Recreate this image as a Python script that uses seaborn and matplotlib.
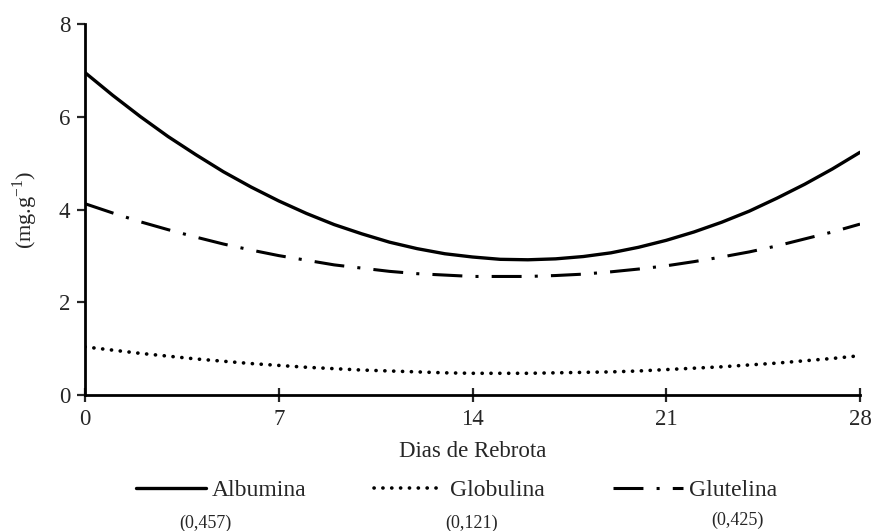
import pandas as pd
import numpy as np
import matplotlib.pyplot as plt
import seaborn as sns

# dias de rebrota e teores (mg.g-1)
dias = list(range(0, 29))
albumina = [6.96, 6.47, 6.01, 5.58, 5.19, 4.82, 4.49, 4.19, 3.92, 3.68,
            3.48, 3.30, 3.16, 3.05, 2.98, 2.93, 2.92, 2.94, 2.99, 3.07,
            3.19, 3.34, 3.52, 3.73, 3.97, 4.25, 4.55, 4.88, 5.24]
globulina = [1.04, 0.97, 0.90, 0.84, 0.78, 0.73, 0.68, 0.64, 0.60, 0.57,
             0.54, 0.52, 0.50, 0.48, 0.47, 0.47, 0.47, 0.48, 0.49, 0.50,
             0.52, 0.55, 0.58, 0.61, 0.65, 0.69, 0.74, 0.79, 0.85]
glutelina = [4.13, 3.93, 3.74, 3.57, 3.41, 3.26, 3.13, 3.01, 2.91, 2.81,
             2.74, 2.67, 2.62, 2.59, 2.56, 2.56, 2.56, 2.58, 2.61, 2.66,
             2.72, 2.79, 2.88, 2.98, 3.09, 3.22, 3.37, 3.52, 3.69]
fracoes = ['Albumina', 'Globulina', 'Glutelina']
r2 = ['(0,457)', '(0,121)', '(0,425)']
xticks = [0, 7, 14, 21, 28]
yticks = [0, 2, 4, 6, 8]

df = pd.DataFrame({'dia': dias * 3,
                   'teor': albumina + globulina + glutelina,
                   'fracao': np.repeat(fracoes, len(dias))})

sns.set_style('white')
plt.rcParams['font.family'] = ['Liberation Serif', 'DejaVu Serif']
plt.rcParams['mathtext.fontset'] = 'custom'
plt.rcParams['mathtext.rm'] = 'Liberation Serif'

fig = plt.figure(figsize=(8.74, 5.31), dpi=100)
ax = fig.add_axes([0.0973, 0.256, 0.8867, 0.698])

sns.lineplot(data=df, x='dia', y='teor', hue='fracao', style='fracao',
             hue_order=fracoes, style_order=fracoes,
             palette=['black'] * 3,
             dashes={'Albumina': '', 'Globulina': (0.05, 2.4), 'Glutelina': (9.8, 4.3, 1.0, 4.3)},
             legend=False, ax=ax)

lws = [2.4, 2.6, 2.2]
for line, lw in zip(ax.get_lines(), lws):
    line.set_linewidth(lw)
ax.get_lines()[1].set_dash_capstyle('round')

ax.set_xlim(0, 28)
ax.set_ylim(0, 8)
ax.set_xticks(xticks)
ax.set_yticks(yticks)
sns.despine(ax=ax)
for s in ['left', 'bottom']:
    ax.spines[s].set_linewidth(2.0)
    ax.spines[s].set_color('black')
ax.tick_params(axis='y', direction='out', length=6, width=1.6, pad=4.5, labelsize=16.5, left=True)
ax.tick_params(axis='x', direction='inout', length=10, width=1.6, pad=5, labelsize=16.5, bottom=True)

ax.set_xlabel('Dias de Rebrota', fontsize=16.5, labelpad=8)
ax.set_ylabel(r'(mg.g$^{-1}$)', fontsize=16, labelpad=14)

ax.legend(ax.get_lines(), fracoes, loc='center', bbox_to_anchor=(0.5223, 0.0772),
          bbox_transform=fig.transFigure, ncol=3, frameon=False, fontsize=17,
          handlelength=2.96, handletextpad=0.25, columnspacing=2.88, borderpad=0)

for txt, xp, yp in zip(r2, [205, 472, 737], [523, 523, 520]):
    fig.text(xp / 874, 1 - yp / 531, txt, ha='center', va='center', fontsize=13)

fig.savefig('out.png', dpi=100)
